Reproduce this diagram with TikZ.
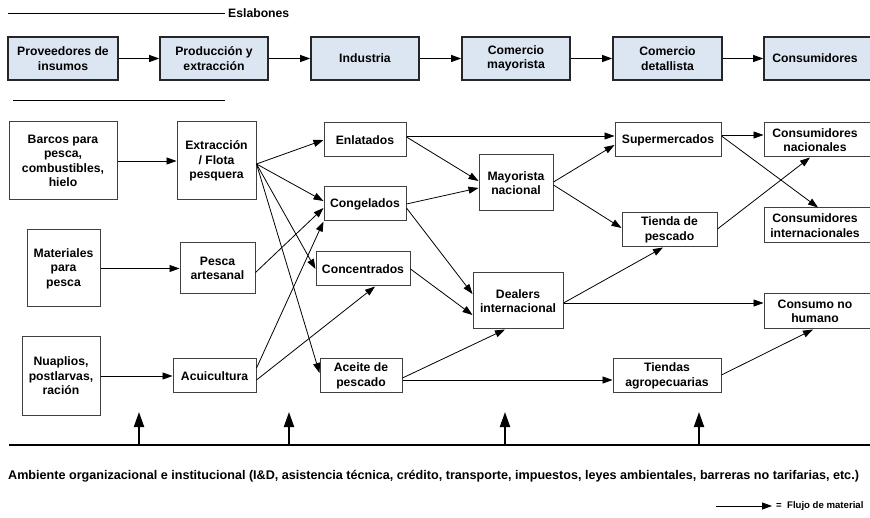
\documentclass[tikz,border=0pt]{standalone}
\usepackage{fontspec}
\setmainfont{Liberation Sans}
\usetikzlibrary{arrows.meta,calc}
\definecolor{linkfill}{HTML}{DCE6F2}
\definecolor{boxline}{HTML}{404040}
\begin{document}
\begin{tikzpicture}[x=1pt,y=-1pt,
  every node/.style={font=\bfseries\fontsize{12.2}{14.4}\selectfont, align=center, inner sep=0pt},
  sz/.style 2 args={minimum width=#1pt, minimum height=#2pt},
  box/.style={draw=boxline, line width=1pt, fill=white},
  linkbox/.style={draw=black!85, line width=1.6pt, fill=linkfill},
  flow/.style={-{Triangle[length=10pt,width=7pt]}, line width=0.8pt},
  uparrow/.style={-{Triangle[length=15pt,width=10pt]}, line width=2pt},
  rule/.style={line width=1pt},
  plain/.style={font=\bfseries\fontsize{12.6}{14}\selectfont},
  legtext/.style={font=\bfseries\fontsize{9.6}{12}\selectfont}]
\useasboundingbox (0,0) rectangle (870,518);

% ---- Eslabones header ----
\draw[rule] (8,14) -- (225,14);
\node[anchor=west] (esl) at (228,13) {Eslabones};
\draw[rule] (13,101) -- (225,101);

% ---- top row ----
\node[linkbox, sz={110}{43}] (prov) at (63,58.5) {Proveedores de\\insumos};
\node[linkbox, sz={108}{43}] (prod) at (214,58.5) {Producción y\\extracción};
\node[linkbox, sz={108}{43}] (ind)  at (365,58.5) {Industria};
\node[linkbox, sz={108}{43}] (cmay) at (516,58.5) {Comercio\\mayorista};
\node[linkbox, sz={109}{43}] (cdet) at (667.5,58.5) {Comercio\\detallista};
\node[linkbox, sz={108}{43}] (cons) at (818,58.5) {\hspace*{-6pt}Consumidores};
\draw[flow] (prov) -- (prod);
\draw[flow] (prod) -- (ind);
\draw[flow] (ind) -- (cmay);
\draw[flow] (cmay) -- (cdet);
\draw[flow] (cdet) -- (cons.west);

% ---- column 1 ----
\node[box, sz={108}{78}] (barcos) at (63,161) {Barcos para\\pesca,\\combustibles,\\hielo};
\node[box, sz={73}{77}]  (mat)    at (63.5,268.5) {Materiales\\para\\pesca};
\node[box, sz={78}{78}]  (nua)    at (61,376) {Nuaplios,\\postlarvas,\\ración};

% ---- column 2 ----
\node[box, sz={79}{78}] (ext) at (216.5,161) {Extracción\\/ Flota\\pesquera};
\node[box, sz={75}{51}] (pes) at (217.5,268.5) {Pesca\\artesanal};
\node[box, sz={83}{34}] (acu) at (214.5,376) {Acuicultura};

% ---- column 3 ----
\node[box, sz={82}{34}] (enl)  at (365,140) {Enlatados};
\node[box, sz={82}{34}] (cong) at (365,204) {Congelados};
\node[box, sz={94}{34}] (conc) at (363,269) {Concentrados};
\node[box, sz={82}{34}] (ace)  at (361,376) {Aceite de\\pescado};

% ---- column 4 ----
\node[box, sz={74}{56}] (myn) at (516,183) {Mayorista\\nacional};
\node[box, sz={90}{56}] (dea) at (518,301) {Dealers\\internacional};

% ---- column 5 ----
\node[box, sz={106}{34}] (sup) at (668,140) {Supermercados};
\node[box, sz={95}{34}]  (tpe) at (669.5,230) {Tienda de\\pescado};
\node[box, sz={108}{34}] (tag) at (667,376) {Tiendas\\agropecuarias};

% ---- column 6 ----
\node[box, sz={108}{34}] (cnac) at (818,140) {\hspace*{-6pt}Consumidores\\\hspace*{-6pt}nacionales};
\node[box, sz={108}{35}] (cint) at (818,225.5) {\hspace*{-6pt}Consumidores\\\hspace*{-6pt}internacionales};
\node[box, sz={108}{35}] (cnh)  at (818,311.5) {\hspace*{-6pt}Consumo no\\\hspace*{-6pt}humano};

% ---- connectors ----
\draw[flow] (barcos.east) -- (ext.west);
\draw[flow] (mat.east) -- (pes.west);
\draw[flow] (nua.east) -- (acu.west);

\draw[flow] ($(ext.east)+(0,3)$) -- (enl.west);
\draw[flow] ($(ext.east)+(0,3)$) -- ($(cong.west)+(0,-3)$);
\draw[flow] ($(ext.east)+(0,3)$) -- (conc.west);
\draw[flow] ($(ext.east)+(0,3)$) -- ($(ace.west)+(0,-3)$);
\draw[flow] ($(pes.east)+(0,4)$) -- ($(cong.west)+(0,4)$);
\draw[flow] ($(acu.east)+(0,-8)$) -- (cong.south west);
\draw[flow] ($(acu.east)+(0,4)$) -- ($(conc.south)+(12,0)$);

\draw[flow] ($(enl.east)+(0,-4)$) -- ($(sup.west)+(0,-4)$);
\draw[flow] ($(enl.east)+(0,-3)$) -- ($(myn.west)+(0,-2)$);
\draw[flow] (cong.east) -- ($(myn.west)+(0,5)$);
\draw[flow] ($(cong.east)+(0,4)$) -- ($(dea.west)+(0,-7)$);
\draw[flow] (conc.east) -- ($(dea.west)+(0,14)$);
\draw[flow] ($(ace.east)+(0,2)$) -- ($(dea.south)+(-13,0)$);
\draw[flow] ($(ace.east)+(0,4)$) -- ($(tag.west)+(0,4)$);

\draw[flow] ($(myn.east)+(0,-1)$) -- ($(sup.west)+(0,5)$);
\draw[flow] ($(myn.east)+(0,2)$) -- ($(tpe.west)+(0,-2)$);
\draw[flow] ($(dea.east)+(0,2)$) -- ($(tpe.south)+(-6.5,0)$);
\draw[flow] ($(dea.east)+(0,2)$) -- ($(cnh.west)+(0,-8.5)$);

\draw[flow] ($(sup.east)+(0,-5)$) -- ($(cnac.west)+(0,-5)$);
\draw[flow] ($(sup.east)+(0,-4)$) -- (cint.north);
\draw[flow] ($(tpe.east)+(0,-1)$) -- ($(cnac.south)+(-8,0)$);
\draw[flow] ($(tag.east)+(0,-1)$) -- ($(cnh.south)+(-5,0)$);

% ---- institutional environment ----
\draw[line width=2pt] (9,445) -- (872,445);
\foreach \i/\x in {1/139, 2/289, 3/505, 4/699} {
  \coordinate (b\i) at (\x,445);
  \coordinate (t\i) at (\x,412);
  \draw[uparrow] (b\i) -- (t\i);
}
\node[plain, anchor=west] (amb) at (8,476) {Ambiente organizacional e institucional (I\&D, asistencia técnica, crédito, transporte, impuestos, leyes ambientales, barreras no tarifarias, etc.)};

% ---- legend ----
\coordinate (lg1) at (716,506);
\coordinate (lg2) at (772,506);
\draw[flow] (lg1) -- (lg2);
\node[legtext, anchor=west] (leg) at (776,506) {=\ \ Flujo de material};
\end{tikzpicture}
\end{document}
